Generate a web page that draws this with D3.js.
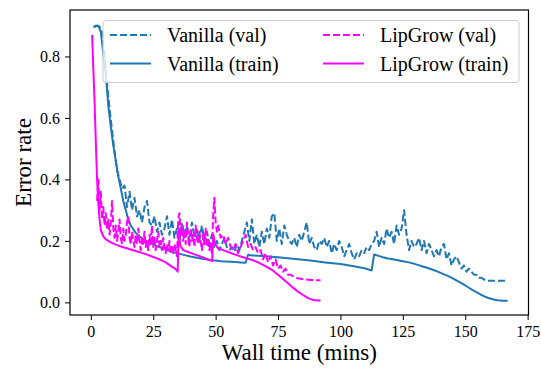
<!DOCTYPE html>
<html>
<head>
<meta charset="utf-8">
<script src="https://cdn.jsdelivr.net/npm/d3@7"></script>
<style>
  body { margin: 0; background: #fff; }
</style>
</head>
<body>
<svg id="chart" width="541" height="369"></svg>
<script>
// Vanilla (val) -- time in minutes, error rate
const vanillaValTime = [1.5, 2.5, 3.5, 4.5, 5.5, 6.5, 7.5, 8.5, 9.5, 10.5, 11.5, 12.5, 13.5, 14.5, 15.5, 16.5, 17.5, 18.5, 19.5, 20.5,
  21.5, 22.5, 23.5, 24.5, 25.5, 26.5, 27.5, 28.5, 29.5, 30.5, 31.5, 32.5, 33.5, 34.5, 35.5, 36.5, 37.5, 38.5, 39.5, 40.5,
  41.5, 42.5, 43.5, 44.5, 45.5, 46.5, 47.5, 48.5, 49.5, 50.5, 51.5, 52.5, 53.5, 54.5, 55.5, 56.5, 57.5, 58.5, 59.5, 60.5,
  61.5, 62.5, 63.5, 64.5, 65.5, 66.5, 67.5, 68.5, 69.5, 70.5, 71.5, 72.5, 73.5, 74.5, 75.5, 76.5, 77.5, 78.5, 79.5, 80.5,
  81.5, 82.5, 83.5, 84.5, 85.5, 86.5, 87.5, 88.5, 89.5, 90.5, 91.5, 92.5, 93.5, 94.5, 95.5, 96.5, 97.5, 98.5, 99.5, 100.5,
  101.5, 102.5, 103.5, 104.5, 105.5, 106.5, 107.5, 108.5, 109.5, 110.5, 111.5, 112.5, 113.5, 114.5, 115.5, 116.5, 117.5, 118.5, 119.5, 120.5,
  121.5, 122.5, 123.5, 124.5, 125.5, 126.5, 127.5, 128.5, 129.5, 130.5, 131.5, 132.5, 133.5, 134.5, 135.5, 136.5, 137.5, 138.5, 139.5, 140.5,
  141.5, 142.5, 143.5, 144.5, 145.5, 146.5, 147.5, 148.5, 149.5, 150.5, 151.5, 152.5, 153.5, 154.5, 155.5, 156.5, 157.5, 158.5, 160, 162,
  164, 166, 167];
const vanillaValErr = [0.895, 0.9, 0.897, 0.88, 0.8, 0.71, 0.63, 0.56, 0.49, 0.43, 0.4, 0.37, 0.38, 0.31, 0.36, 0.3, 0.34, 0.28, 0.3, 0.26,
  0.31, 0.33, 0.26, 0.25, 0.28, 0.23, 0.26, 0.22, 0.24, 0.28, 0.22, 0.27, 0.21, 0.24, 0.2, 0.26, 0.22, 0.25, 0.2, 0.26,
  0.21, 0.24, 0.2, 0.25, 0.2, 0.23, 0.19, 0.22, 0.18, 0.2, 0.17, 0.19, 0.21, 0.18, 0.17, 0.18, 0.165, 0.19, 0.17, 0.2,
  0.23, 0.26, 0.2, 0.27, 0.19, 0.22, 0.18, 0.23, 0.19, 0.24, 0.21, 0.28, 0.29, 0.2, 0.24, 0.19, 0.25, 0.22, 0.2, 0.19,
  0.21, 0.18, 0.22, 0.2, 0.23, 0.26, 0.19, 0.21, 0.18, 0.17, 0.2, 0.19, 0.21, 0.18, 0.2, 0.16, 0.19, 0.17, 0.2, 0.18,
  0.15, 0.17, 0.19, 0.16, 0.14, 0.16, 0.15, 0.17, 0.16, 0.18, 0.17, 0.19, 0.2, 0.23, 0.18, 0.21, 0.19, 0.24, 0.21, 0.23,
  0.19, 0.25, 0.22, 0.24, 0.3, 0.22, 0.17, 0.2, 0.18, 0.19, 0.21, 0.17, 0.2, 0.16, 0.19, 0.17, 0.15, 0.17, 0.15, 0.18,
  0.19, 0.14, 0.16, 0.12, 0.14, 0.15, 0.13, 0.11, 0.12, 0.1, 0.11, 0.1, 0.09, 0.09, 0.08, 0.08, 0.075, 0.07, 0.07, 0.07,
  0.07, 0.07, 0.07];

// Vanilla (train)
const vanillaTrainTime = [1, 2, 3, 4, 5, 6, 7, 8, 9, 10, 11, 12, 13, 14, 15, 16, 17, 18, 20, 22,
  24, 26, 28, 30, 32, 34, 36, 38, 40, 42, 44, 46, 48, 50, 52, 54, 56, 58, 60, 62,
  63, 64, 70, 76, 82, 88, 94, 100, 106, 110, 112.5, 113.5, 115, 117, 119, 121, 123, 125, 127, 129,
  131, 133, 135, 137, 139, 141, 143, 145, 147, 149, 151, 153, 155, 157, 159, 161, 163, 165, 167];
const vanillaTrainErr = [0.895, 0.9, 0.9, 0.88, 0.81, 0.74, 0.64, 0.57, 0.51, 0.46, 0.41, 0.37, 0.33, 0.3, 0.27, 0.25, 0.238, 0.226, 0.212, 0.2,
  0.192, 0.185, 0.178, 0.172, 0.166, 0.161, 0.157, 0.153, 0.149, 0.146, 0.143, 0.14, 0.137, 0.136, 0.134, 0.133, 0.132, 0.131, 0.13, 0.129,
  0.155, 0.153, 0.15, 0.146, 0.141, 0.136, 0.13, 0.125, 0.117, 0.11, 0.104, 0.156, 0.152, 0.147, 0.143, 0.14, 0.137, 0.134, 0.131, 0.127,
  0.122, 0.117, 0.112, 0.106, 0.1, 0.093, 0.086, 0.078, 0.069, 0.06, 0.05, 0.04, 0.031, 0.022, 0.015, 0.01, 0.007, 0.005, 0.005];

// LipGrow (val)
const lipValTime = [2.5, 3, 3.5, 4, 4.5, 5, 5.5, 6, 6.5, 7, 7.5, 8, 8.5, 9, 9.5, 10, 10.5, 11, 11.5, 12,
  12.5, 13, 13.5, 14, 14.5, 15, 15.5, 16, 16.5, 17, 17.5, 18, 18.5, 19, 19.5, 20, 20.5, 21, 21.5, 22,
  22.5, 23, 23.5, 24, 24.5, 25, 25.5, 26, 26.5, 27, 27.5, 28, 28.5, 29, 29.5, 30, 30.5, 31, 31.5, 32,
  32.5, 33, 33.5, 34, 34.5, 35, 35.5, 36, 36.5, 37, 37.5, 38, 38.5, 39, 39.5, 40, 40.5, 41, 41.5, 42,
  42.5, 43, 43.5, 44, 44.5, 45, 45.5, 46, 46.5, 47, 47.5, 48, 48.5, 49, 49.5, 50, 50.5, 51, 52, 53,
  54, 55, 56, 57, 58, 59, 60, 61, 62, 63, 64, 65, 66, 67, 68, 69, 70, 71, 72, 73,
  74, 75, 76, 77, 78, 79, 80, 81, 82, 84, 86, 88, 90, 92];
const lipValErr = [0.33, 0.4, 0.3, 0.36, 0.27, 0.31, 0.25, 0.29, 0.24, 0.27, 0.22, 0.26, 0.33, 0.24, 0.21, 0.25, 0.2, 0.23, 0.27, 0.21,
  0.19, 0.24, 0.2, 0.22, 0.26, 0.28, 0.21, 0.19, 0.23, 0.2, 0.18, 0.22, 0.19, 0.24, 0.2, 0.17, 0.21, 0.19, 0.23, 0.18,
  0.2, 0.17, 0.22, 0.19, 0.25, 0.18, 0.21, 0.17, 0.2, 0.23, 0.18, 0.2, 0.17, 0.21, 0.18, 0.16, 0.19, 0.17, 0.2, 0.16,
  0.18, 0.16, 0.19, 0.17, 0.15, 0.27, 0.29, 0.22, 0.25, 0.2, 0.23, 0.19, 0.26, 0.21, 0.18, 0.24, 0.2, 0.22, 0.18, 0.25,
  0.21, 0.19, 0.23, 0.2, 0.17, 0.22, 0.19, 0.24, 0.18, 0.21, 0.17, 0.19, 0.16, 0.28, 0.34, 0.26, 0.23, 0.25, 0.21, 0.22,
  0.19, 0.21, 0.18, 0.17, 0.19, 0.16, 0.18, 0.2, 0.22, 0.18, 0.19, 0.17, 0.18, 0.16, 0.17, 0.14, 0.16, 0.13, 0.15, 0.12,
  0.14, 0.11, 0.12, 0.1, 0.11, 0.09, 0.09, 0.085, 0.08, 0.077, 0.075, 0.073, 0.072, 0.072];

// LipGrow (train)
const lipTrainTime = [0.5, 1.5, 2, 2.5, 3, 3.5, 4, 5, 6, 8, 10, 12, 14, 16, 18, 20, 22, 24, 26, 28,
  30, 32, 34, 34.8, 35.2, 35.8, 37, 39, 41, 43, 45, 47, 48.6, 49.1, 49.7, 51, 53, 55, 57, 59,
  61, 63, 65, 67, 69, 71, 73, 75, 77, 79, 81, 83, 85, 87, 89, 91, 92];
const lipTrainErr = [0.87, 0.65, 0.52, 0.4, 0.32, 0.27, 0.235, 0.215, 0.205, 0.195, 0.188, 0.182, 0.177, 0.172, 0.167, 0.162, 0.157, 0.151, 0.145, 0.138,
  0.13, 0.119, 0.108, 0.1, 0.24, 0.185, 0.17, 0.164, 0.158, 0.152, 0.146, 0.14, 0.135, 0.22, 0.19, 0.176, 0.17, 0.164, 0.158, 0.152,
  0.147, 0.142, 0.137, 0.13, 0.122, 0.113, 0.103, 0.09, 0.076, 0.062, 0.048, 0.035, 0.024, 0.014, 0.008, 0.006, 0.006];

const xTicks = [0, 25, 50, 75, 100, 125, 150, 175];
const yTicks = [0.0, 0.2, 0.4, 0.6, 0.8];

const blue = '#1f77b4';
const magenta = '#ff00ff';
const serif = '"Liberation Serif", serif';

const series = [
  { name: 'Vanilla (val)', t: vanillaValTime, e: vanillaValErr, color: blue, dashed: true },
  { name: 'Vanilla (train)', t: vanillaTrainTime, e: vanillaTrainErr, color: blue, dashed: false },
  { name: 'LipGrow (val)', t: lipValTime, e: lipValErr, color: magenta, dashed: true },
  { name: 'LipGrow (train)', t: lipTrainTime, e: lipTrainErr, color: magenta, dashed: false }
];

const svg = d3.select('#chart');
const mLeft = 70, mRight = 528.5, mTop = 10, mBottom = 315;

const x = d3.scaleLinear().domain([-8.35, 175.35]).range([mLeft, mRight]);
const y = d3.scaleLinear().domain([-0.041, 0.951]).range([mBottom, mTop]);

svg.append('defs').append('clipPath').attr('id', 'clip')
  .append('rect').attr('x', mLeft).attr('y', mTop).attr('width', mRight - mLeft).attr('height', mBottom - mTop);

const line = d3.line().x(d => x(d[0])).y(d => y(d[1]));

const plot = svg.append('g').attr('clip-path', 'url(#clip)');
series.forEach(s => {
  plot.append('path')
    .datum(s.t.map((t, i) => [t, s.e[i]]))
    .attr('d', line)
    .attr('fill', 'none')
    .attr('stroke', s.color)
    .attr('stroke-width', 2)
    .attr('stroke-linejoin', 'round')
    .attr('stroke-dasharray', s.dashed ? '7,3' : null);
});

// axes
const xAxis = svg.append('g').attr('transform', `translate(0,${mBottom})`)
  .call(d3.axisBottom(x).tickValues(xTicks).tickFormat(d3.format('d')).tickSizeInner(5).tickSizeOuter(0).tickPadding(6));
const yAxis = svg.append('g').attr('transform', `translate(${mLeft},0)`)
  .call(d3.axisLeft(y).tickValues(yTicks).tickFormat(d3.format('.1f')).tickSizeInner(5).tickSizeOuter(0).tickPadding(5));
[xAxis, yAxis].forEach(a => {
  a.select('.domain').remove();
  a.selectAll('.tick line').attr('stroke', '#000').attr('stroke-width', 1);
  a.selectAll('.tick text').attr('fill', '#000')
    .style('font-family', serif).style('font-size', '16px');
});

// frame
svg.append('rect').attr('x', mLeft).attr('y', mTop).attr('width', mRight - mLeft).attr('height', mBottom - mTop)
  .attr('fill', 'none').attr('stroke', '#000').attr('stroke-width', 1.2);

// labels
svg.append('text').attr('x', (mLeft + mRight) / 2).attr('y', 360).attr('text-anchor', 'middle')
  .style('font-family', serif).style('font-size', '23px').text('Wall time (mins)');
svg.append('text').attr('transform', `translate(31,${(mTop + mBottom) / 2}) rotate(-90)`).attr('text-anchor', 'middle')
  .style('font-family', serif).style('font-size', '23px').text('Error rate');

// legend
const lg = svg.append('g');
lg.append('rect').attr('x', 103).attr('y', 20.5).attr('width', 416).attr('height', 62).attr('rx', 3)
  .attr('fill', '#fff').attr('fill-opacity', 0.8).attr('stroke', '#ccc').attr('stroke-width', 1);
const legendPos = [[110, 35], [110, 63.5], [323, 35], [323, 63.5]];
series.forEach((s, i) => {
  const [lx, ly] = legendPos[i];
  lg.append('line').attr('x1', lx).attr('x2', lx + 41).attr('y1', ly).attr('y2', ly)
    .attr('stroke', s.color).attr('stroke-width', 2).attr('stroke-dasharray', s.dashed ? '7,3' : null);
  lg.append('text').attr('x', lx + 57).attr('y', ly + 7).style('font-family', serif).style('font-size', '20px').text(s.name);
});
</script>
</body>
</html>
